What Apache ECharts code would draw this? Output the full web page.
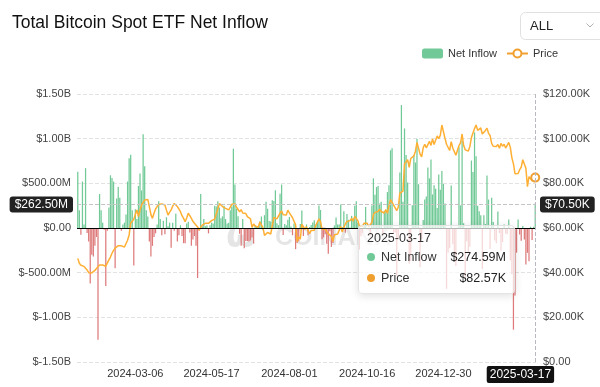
<!DOCTYPE html>
<html>
<head>
<meta charset="utf-8">
<script src="https://cdn.jsdelivr.net/npm/echarts@6/dist/echarts.min.js"></script>
<style>
html,body{margin:0;padding:0;background:#fff;}
#c{width:600px;height:387px;}
</style>
</head>
<body>
<div id="c"></div>
<script>
// ---------- data ----------
const startDate = '2024-01-11';
const endDate = '2025-03-17';
const marketHolidays = ['2024-01-15','2024-02-19','2024-03-29','2024-05-27','2024-06-19','2024-07-04',
  '2024-09-02','2024-11-28','2024-12-25','2025-01-01','2025-01-09','2025-01-20','2025-02-17'];

// daily net inflow, $ millions
const netInflowM = [
  630, 200, -75, 520, 40, 670, -55, -150, -620, -300,
  -320, -200, -100, -1250, 380, 200, 60, -20, -650, -30,
  230, 590, 560, 520, -450, 330, 460, 340, -30, 40,
  60, 150, 520, 780, 820, 200, -420, 210, 100, 470,
  610, 420, 1050, 690, 200, 130, -150, -320, -200, -100,
  -60, 40, 300, 100, -80, 80, -70, 120, 20, 60,
  -220, 60, -30, 160, -150, -80, 30, -90, -170, -170,
  50, 70, -50, -200, -130, -90, -200, -560, -30, 380,
  20, 100, 20, 30, -60, 30, 60, 50, 250, 240,
  300, 230, 110, 130, 250, 100, 50, 60, 200, 240,
  886, 488, 217, 131, -65, -200, 100, -226, -145, -146,
  -152, -140, -106, -175, 31, 21, 11, 73, 129, -20,
  143, 295, 216, 78, 73, 310, 301, 422, 53, 31,
  384, 486, -78, 44, 31, 91, 124, 18, -81, 50,
  -237, -168, -148, 45, 195, -89, -10, 39, -81, 11,
  33, 62, 88, 39, 65, 252, 202, -127, -105, -71,
  -175, -288, -37, -211, -169, 28, 117, 39, 39, 263,
  12, 187, -52, 158, 92, 5, 136, 105, 250, 300,
  61, -242, -92, -54, 25, 235, -18, -20, -81, 253,
  556, 371, 458, 470, 273, 294, -79, 192, 188, 402,
  479, 870, 893, -54, -50, -541, -116, 621, 1376, 294,
  1114, 817, 510, -400, -370, 255, 816, 733, 1000, 490,
  -438, -122, 90, 320, 353, 676, 556, 766, 376, 479,
  439, 223, 598, 428, 637, 493, 275, -680, -277, -226,
  475, -183, -287, -426, 5, 908, 253, 978, 52, -568,
  -149, -284, -209, 755, 626, 1070, 802, 248, 188, 143,
  -458, 143, 45, 588, 318, -235, 340, 66, -140, -171,
  186, -56, -251, -157, 40, -61, -70, 95, -365, -517,
  -1138, -755, -276, 95, -74, -143, 22, -130, -409, -278,
  -371, 13, -135, 15, 274.59
];

// BTC price, $ thousands
const priceK = [
  46.4, 44.2, 43.3, 43.4, 42.8, 42.5, 41.2, 40.0, 40.2, 39.9,
  40.1, 41.0, 41.9, 42.6, 43.4, 43.0, 43.4, 43.3, 42.9, 43.1,
  45.7, 47.0, 48.7, 50.0, 51.0, 51.6, 52.1, 52.4, 52.0, 51.9,
  51.5, 52.3, 54.5, 56.9, 62.1, 62.6, 63.9, 66.0, 68.1, 65.1,
  68.0, 70.3, 71.5, 72.5, 72.9, 72.8, 69.6, 66.0, 64.3, 66.6,
  68.5, 69.6, 70.5, 71.0, 70.8, 70.6, 70.3, 68.0, 65.8, 67.0,
  68.1, 69.8, 71.0, 70.2, 69.6, 68.5, 67.3, 65.5, 64.3, 62.8,
  64.5, 66.6, 65.5, 64.3, 63.0, 62.1, 62.8, 60.5, 59.1, 60.3,
  61.3, 61.8, 62.1, 61.7, 62.1, 62.5, 63.3, 63.6, 64.0, 64.3,
  68.5, 71.0, 70.2, 69.6, 69.0, 68.8, 68.5, 68.1, 68.8, 70.6,
  71.1, 70.8, 69.3, 69.5, 67.3, 68.2, 66.7, 66.0, 66.5, 65.1,
  64.9, 64.1, 60.3, 61.8, 60.9, 61.6, 60.3, 62.7, 62.0, 60.2,
  56.7, 56.7, 58.0, 57.7, 57.3, 57.9, 64.7, 65.0, 64.1, 63.9,
  66.7, 67.6, 65.9, 65.4, 65.8, 68.0, 66.8, 66.2, 64.6, 65.4,
  61.4, 54.0, 56.0, 55.0, 61.7, 60.9, 59.4, 60.6, 58.7, 57.5,
  58.9, 59.5, 59.0, 61.2, 60.4, 64.1, 62.9, 59.5, 59.0, 59.4,
  59.1, 57.5, 58.0, 56.2, 54.0, 57.0, 57.6, 57.3, 58.1, 60.6,
  58.2, 60.3, 61.8, 62.9, 63.2, 63.3, 64.3, 63.1, 65.2, 65.9,
  63.3, 60.8, 60.6, 60.8, 62.1, 62.2, 62.1, 60.6, 60.3, 62.4,
  66.0, 67.0, 67.6, 67.4, 68.4, 67.4, 67.4, 66.7, 68.2, 66.6,
  69.9, 72.7, 72.3, 70.2, 69.5, 67.8, 69.4, 75.6, 75.9, 76.5,
  88.7, 88.3, 90.6, 87.2, 91.1, 90.6, 92.3, 94.3, 98.3, 98.9,
  93.1, 91.9, 95.9, 97.5, 95.9, 96.0, 98.8, 97.0, 99.9, 97.4,
  96.7, 101.2, 100.0, 101.5, 106.1, 106.1, 100.2, 97.5, 97.8, 94.7,
  98.7, 95.8, 94.2, 92.6, 93.4, 96.9, 98.1, 102.1, 96.9, 95.0,
  94.7, 94.5, 96.5, 100.5, 99.9, 104.5, 106.1, 103.7, 104.0, 104.8,
  102.1, 101.3, 103.7, 104.7, 102.4, 101.4, 97.9, 96.6, 96.6, 96.5,
  97.4, 95.7, 97.9, 96.6, 97.5, 95.8, 96.6, 98.3, 96.1, 91.4,
  88.7, 84.3, 84.7, 84.4, 86.1, 87.2, 90.6, 89.9, 86.7, 78.5,
  83.0, 83.7, 81.1, 84.0, 82.57
];

const tickLabels = ['2024-03-06', '2024-05-17', '2024-08-01', '2024-10-16', '2024-12-30'];
const tickIndex = [37, 86, 136, 186, 235];
const hoverValueM = 262.5;   // cross-hair level on the left axis

// ---------- helpers ----------
function buildTradingDays(s, e, hol) {
  const out = [];
  const d = new Date(s + 'T00:00:00Z');
  const end = new Date(e + 'T00:00:00Z');
  while (d <= end) {
    const wd = d.getUTCDay();
    const iso = d.toISOString().slice(0, 10);
    if (wd !== 0 && wd !== 6 && hol.indexOf(iso) < 0) out.push(iso);
    d.setUTCDate(d.getUTCDate() + 1);
  }
  return out;
}
const categories = buildTradingDays(startDate, endDate, marketHolidays);

const FONT = '"Liberation Sans", Arial, sans-serif';
const GREEN = '#70c996';
const RED = '#de7a7a';
const ORANGE = '#f0a030';

function fmtLeft(v) {
  if (v === 0) return '$0.00';
  if (Math.abs(v) >= 1000) return '$' + (v / 1000).toFixed(2) + 'B';
  return '$' + v.toFixed(2) + 'M';
}
function fmtRight(v) {
  if (v === 0) return '$0.00';
  return '$' + v.toFixed(2) + 'K';
}

const chart = echarts.init(document.getElementById('c'));
const option = {
  animation: false,
  textStyle: { fontFamily: FONT },
  title: {
    text: 'Total Bitcoin Spot ETF Net Inflow',
    left: 7, top: 9,
    textStyle: { fontSize: 17.5, fontWeight: 'normal', color: '#111', fontFamily: FONT }
  },
  legend: {
    right: 37, top: 43,
    itemWidth: 21, itemHeight: 10, itemGap: 9,
    textStyle: { fontSize: 11, color: '#333', fontFamily: FONT },
    data: [{ name: 'Net Inflow', icon: 'roundRect' }, { name: 'Price' }]
  },
  grid: { left: 77, right: 64, top: 94, bottom: 25 },
  tooltip: {
    trigger: 'axis',
    triggerOn: 'none',
    alwaysShowContent: true,
    transitionDuration: 0,
    axisPointer: {
      type: 'cross',
      crossStyle: { color: '#c4c4c4', type: 'dashed', width: 1 }
    },
    backgroundColor: 'rgba(255,255,255,0.7)',
    borderColor: '#e4e4e4',
    borderWidth: 1,
    padding: 0,
    extraCssText: 'box-shadow:0 2px 8px rgba(0,0,0,0.12);border-radius:4px;',
    formatter: function (params) {
      const date = params[0].axisValue;
      let html = '<div style="padding:3px 8px 4px 8px;width:139px;font-family:' + FONT.replace(/"/g, "'") +
        ';font-size:12.5px;color:#333;">' +
        '<div style="line-height:18px;color:#333;">' + date + '</div>';
      params.forEach(function (p) {
        const isBar = p.seriesIndex === 0;
        const v = isBar ? fmtLeft(p.value) : fmtRight(p.value);
        const col = isBar ? GREEN : ORANGE;
        html += '<div style="display:flex;justify-content:space-between;align-items:center;line-height:21px;">' +
          '<span><span style="display:inline-block;width:8px;height:8px;border-radius:50%;background:' + col +
          ';margin-right:6px;vertical-align:0px;"></span>' + p.seriesName + '</span>' +
          '<span style="color:#222;">' + v + '</span></div>';
      });
      return html + '</div>';
    }
  },
  xAxis: {
    type: 'category',
    data: categories,
    axisLine: { show: false },
    axisTick: { show: false },
    splitLine: { show: false },
    axisLabel: {
      interval: function (i) { return tickIndex.indexOf(i) >= 0; },
      formatter: function (v, i) { return tickLabels[tickIndex.indexOf(i)]; },
      fontSize: 11, color: '#333', margin: 6, fontFamily: FONT
    },
    axisPointer: {
      label: {
        show: true,
        backgroundColor: 'transparent',
        padding: 0,
        margin: 4,
        shadowBlur: 0,
        formatter: function (p) { return '{a|' + p.value + '}{b|}'; },
        rich: {
          a: { backgroundColor: '#111', color: '#fff', fontSize: 12, padding: [3, 3, 2, 3],
               borderRadius: 2, fontFamily: FONT },
          b: { width: 32 }
        }
      }
    }
  },
  yAxis: [
    {
      type: 'value', min: -1500, max: 1500, interval: 500, position: 'left',
      axisLine: { show: false }, axisTick: { show: false },
      axisLabel: { formatter: fmtLeft, fontSize: 11, color: '#444', margin: 6, fontFamily: FONT },
      splitLine: { lineStyle: { type: 'dashed', color: '#e2e2e2' } },
      axisPointer: {
        label: {
          backgroundColor: '#222', color: '#fff', padding: [2, 5], fontSize: 12, borderRadius: 3,
          margin: 4, shadowBlur: 0, fontFamily: FONT,
          formatter: function (p) { return fmtLeft(Number(p.value)); }
        }
      }
    },
    {
      type: 'value', min: 0, max: 120, interval: 20, position: 'right',
      axisLine: { show: false }, axisTick: { show: false },
      axisLabel: { formatter: fmtRight, fontSize: 11, color: '#444', margin: 7, fontFamily: FONT },
      splitLine: { show: false },
      axisPointer: {
        label: {
          backgroundColor: '#222', color: '#fff', padding: [2, 5], fontSize: 12, borderRadius: 3,
          margin: 4, shadowBlur: 0, fontFamily: FONT,
          formatter: function (p) { return fmtRight(Number(p.value)); }
        }
      }
    }
  ],
  series: [
    {
      name: 'Net Inflow',
      type: 'bar',
      yAxisIndex: 0,
      barWidth: '80%',
      itemStyle: { color: GREEN },
      emphasis: { disabled: true },
      data: netInflowM.map(function (v) { return { value: v, itemStyle: { color: v >= 0 ? GREEN : RED } }; }),
      markLine: {
        silent: true, symbol: 'none', animation: false,
        label: { show: false },
        lineStyle: { color: '#000', width: 1, type: 'solid' },
        emphasis: { disabled: true },
        data: [{ yAxis: 0 }]
      }
    },
    {
      name: 'Price',
      type: 'line',
      yAxisIndex: 1,
      data: priceK,
      showSymbol: false,
      symbol: 'emptyCircle',
      symbolSize: 8,
      lineStyle: { width: 1.5, color: ORANGE },
      itemStyle: { color: ORANGE },
      emphasis: { scale: false, lineStyle: { width: 1.5 } },
      z: 3
    }
  ],
  graphic: [
    { type: 'rect', shape: { x: 520.5, y: 12.5, width: 95, height: 27, r: 5 },
      style: { fill: '#fff', stroke: '#e0e0e0', lineWidth: 1 } },
    { type: 'text', x: 530, y: 26, style: { text: 'ALL', font: '13px ' + FONT, fill: '#222', verticalAlign: 'middle' } },
    { type: 'polyline', shape: { points: [[586.5, 23.5], [590, 27], [593.5, 23.5]] },
      style: { stroke: '#b0b0b0', lineWidth: 1, fill: null } },
    { type: 'text', x: 226, y: 238, z: -1, style: { text: 'ω', font: 'bold 34px "DejaVu Sans"', fill: 'rgba(0,0,0,0.10)', verticalAlign: 'middle' } },
    { type: 'text', x: 275, y: 238, z: -1, style: { text: 'COINANK', font: 'bold 25px ' + FONT, fill: 'rgba(0,0,0,0.10)', verticalAlign: 'middle' } }
  ]
};
chart.setOption(option);

// show the tooltip / cross-hair on the last trading day
const lastIdx = categories.length - 1;
const px = chart.convertToPixel({ xAxisIndex: 0 }, lastIdx);
const py = chart.convertToPixel({ yAxisIndex: 0 }, hoverValueM);
chart.dispatchAction({ type: 'showTip', x: px, y: py });
</script>
</body>
</html>
